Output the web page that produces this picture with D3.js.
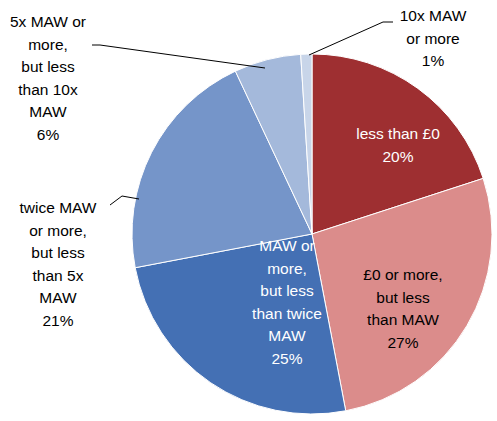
<!DOCTYPE html><html><head><script src="https://cdn.jsdelivr.net/npm/d3@7"></script>
<style>body{margin:0;background:#fff}text{font-family:"Liberation Sans",Arial,sans-serif;font-size:15.5px}</style></head><body>
<svg id="c" width="497" height="421"></svg>
<script>
const categories=["less than £0","£0 or more, but less than MAW","MAW or more, but less than twice MAW","twice MAW or more, but less than 5x MAW","5x MAW or more, but less than 10x MAW","10x MAW or more"];
const values=[20,27,25,21,6,1];
const colors=["#9E2F31","#DB8C8B","#4470B4","#7595C9","#A4B9DB","#C8D5E9"];
const labelLines=[["less than £0","20%"],["£0 or more,","but less","than MAW","27%"],["MAW or","more,","but less","than twice","MAW","25%"],["twice MAW","or more,","but less","than 5x","MAW","21%"],["5x MAW or","more,","but less","than 10x","MAW","6%"],["10x MAW","or more","1%"]];
const labelPos=[[398,139],[403,280],[287,251],[58,213],[48,27],[433,21]];
const textCol=["#fff","#000","#fff","#000","#000","#000"];
const svg=d3.select("#c"),cx=312,cy=234,r=180;
const arcs=d3.pie().sort(null)(values);
const g=svg.append("g").attr("transform",`translate(${cx},${cy})`);
g.selectAll("path").data(arcs).join("path").attr("d",d3.arc().innerRadius(0).outerRadius(r)).attr("fill",(d,i)=>colors[i]).attr("stroke","#fff").attr("stroke-width",1);
const leaders=[[[110,205],[122,196],[139,199]],[[92,45],[100,45],[265,68]],[[393,22],[383,22],[309,55]]];
leaders.forEach(p=>svg.append("polyline").attr("points",p.map(q=>q.join(",")).join(" ")).attr("fill","none").attr("stroke","#000").attr("stroke-width",1));
labelLines.forEach((ls,i)=>{const t=svg.append("text").attr("text-anchor","middle").attr("fill",textCol[i]);
ls.forEach((l,j)=>t.append("tspan").attr("x",labelPos[i][0]).attr("y",labelPos[i][1]+j*22.5).text(l));});
</script></body></html>
